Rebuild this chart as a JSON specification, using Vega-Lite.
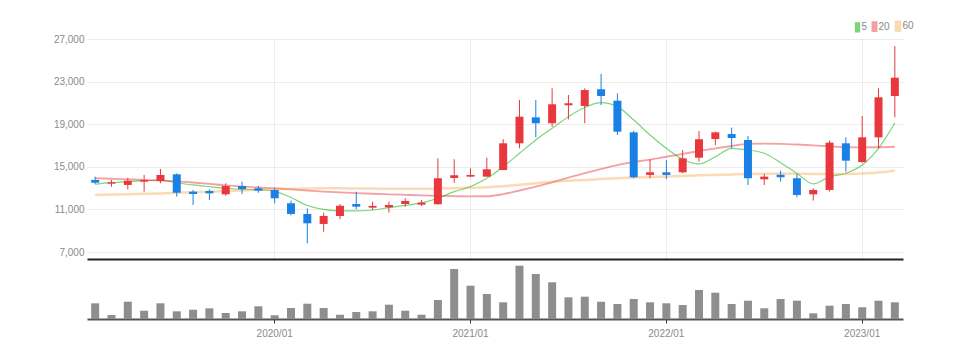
{
  "$schema": "https://vega.github.io/schema/vega-lite/v6.json",
  "padding": {"left": 53, "top": 20, "right": 5, "bottom": 5},
  "background": "white",
  "spacing": 0,
  "datasets": {
    "d": [
      {"m":"2019/02","o":13770,"h":14080,"l":13390,"c":13510,"v":157000,"ma5":13360,"ma20":13930,"ma60":12360},
      {"m":"2019/03","o":13420,"h":13770,"l":13140,"c":13550,"v":40000,"ma5":13510,"ma20":13880,"ma60":12400},
      {"m":"2019/04","o":13300,"h":13980,"l":12890,"c":13700,"v":173000,"ma5":13610,"ma20":13830,"ma60":12430},
      {"m":"2019/05","o":13610,"h":14240,"l":12670,"c":13770,"v":83000,"ma5":13700,"ma20":13780,"ma60":12470},
      {"m":"2019/06","o":13670,"h":14800,"l":13460,"c":14240,"v":157000,"ma5":13740,"ma20":13720,"ma60":12500},
      {"m":"2019/07","o":14300,"h":14400,"l":12200,"c":12570,"v":77000,"ma5":13510,"ma20":13640,"ma60":12560},
      {"m":"2019/08","o":12670,"h":12830,"l":11420,"c":12450,"v":93000,"ma5":13300,"ma20":13530,"ma60":12620},
      {"m":"2019/09","o":12730,"h":12890,"l":11890,"c":12515,"v":107000,"ma5":13140,"ma20":13400,"ma60":12670},
      {"m":"2019/10","o":12420,"h":13460,"l":12290,"c":13200,"v":60000,"ma5":12990,"ma20":13260,"ma60":12730},
      {"m":"2019/11","o":13200,"h":13610,"l":12450,"c":12920,"v":77000,"ma5":12890,"ma20":13150,"ma60":12790},
      {"m":"2019/12","o":12990,"h":13200,"l":12570,"c":12760,"v":127000,"ma5":12860,"ma20":13060,"ma60":12850},
      {"m":"2020/01","o":12830,"h":12990,"l":11580,"c":12050,"v":37000,"ma5":12700,"ma20":12990,"ma60":12900},
      {"m":"2020/02","o":11580,"h":11830,"l":10450,"c":10580,"v":110000,"ma5":12120,"ma20":12880,"ma60":12940},
      {"m":"2020/03","o":10580,"h":11110,"l":7820,"c":9700,"v":153000,"ma5":11370,"ma20":12780,"ma60":12970},
      {"m":"2020/04","o":9640,"h":10700,"l":8910,"c":10390,"v":110000,"ma5":11000,"ma20":12680,"ma60":12980},
      {"m":"2020/05","o":10390,"h":11510,"l":10080,"c":11350,"v":43000,"ma5":10860,"ma20":12600,"ma60":12980},
      {"m":"2020/06","o":11510,"h":12670,"l":11020,"c":11260,"v":70000,"ma5":10860,"ma20":12530,"ma60":12970},
      {"m":"2020/07","o":11170,"h":11730,"l":10950,"c":11330,"v":77000,"ma5":10950,"ma20":12470,"ma60":12960},
      {"m":"2020/08","o":11200,"h":11730,"l":10700,"c":11420,"v":143000,"ma5":11170,"ma20":12420,"ma60":12950},
      {"m":"2020/09","o":11510,"h":12050,"l":11260,"c":11800,"v":83000,"ma5":11390,"ma20":12370,"ma60":12940},
      {"m":"2020/10","o":11450,"h":11890,"l":11330,"c":11640,"v":43000,"ma5":11610,"ma20":12320,"ma60":12940},
      {"m":"2020/11","o":11490,"h":15800,"l":11450,"c":13930,"v":190000,"ma5":12050,"ma20":12280,"ma60":12960},
      {"m":"2020/12","o":13950,"h":15710,"l":13510,"c":14210,"v":500000,"ma5":12670,"ma20":12250,"ma60":12990},
      {"m":"2021/01","o":14080,"h":14860,"l":14020,"c":14240,"v":333000,"ma5":13140,"ma20":12230,"ma60":13030},
      {"m":"2021/02","o":14080,"h":15860,"l":14080,"c":14770,"v":250000,"ma5":13930,"ma20":12240,"ma60":13080},
      {"m":"2021/03","o":14700,"h":17590,"l":14700,"c":17210,"v":167000,"ma5":15010,"ma20":12440,"ma60":13180},
      {"m":"2021/04","o":17210,"h":21270,"l":16740,"c":19710,"v":533000,"ma5":16270,"ma20":12780,"ma60":13320},
      {"m":"2021/05","o":19650,"h":21270,"l":17770,"c":19090,"v":450000,"ma5":17520,"ma20":13150,"ma60":13470},
      {"m":"2021/06","o":19090,"h":22370,"l":18770,"c":20870,"v":367000,"ma5":18620,"ma20":13550,"ma60":13610},
      {"m":"2021/07","o":20780,"h":21740,"l":19460,"c":20970,"v":217000,"ma5":19710,"ma20":13980,"ma60":13700},
      {"m":"2021/08","o":20710,"h":22370,"l":19090,"c":22210,"v":223000,"ma5":20570,"ma20":14420,"ma60":13770},
      {"m":"2021/09","o":22280,"h":23720,"l":20800,"c":21650,"v":173000,"ma5":21020,"ma20":14800,"ma60":13860},
      {"m":"2021/10","o":21210,"h":21900,"l":17990,"c":18300,"v":150000,"ma5":20650,"ma20":15170,"ma60":13940},
      {"m":"2021/11","o":18240,"h":18390,"l":13930,"c":14020,"v":200000,"ma5":19400,"ma20":15450,"ma60":14000},
      {"m":"2021/12","o":14240,"h":15710,"l":13930,"c":14490,"v":167000,"ma5":17990,"ma20":15680,"ma60":14050},
      {"m":"2022/01","o":14490,"h":15640,"l":13860,"c":14240,"v":157000,"ma5":16740,"ma20":15950,"ma60":14100},
      {"m":"2022/02","o":14490,"h":16580,"l":14400,"c":15800,"v":140000,"ma5":15710,"ma20":16210,"ma60":14150},
      {"m":"2022/03","o":15860,"h":18370,"l":15480,"c":17590,"v":290000,"ma5":15270,"ma20":16480,"ma60":14200},
      {"m":"2022/04","o":17610,"h":18300,"l":17050,"c":18240,"v":263000,"ma5":15950,"ma20":16740,"ma60":14240},
      {"m":"2022/05","o":18080,"h":18680,"l":16740,"c":17710,"v":150000,"ma5":16740,"ma20":16960,"ma60":14280},
      {"m":"2022/06","o":17520,"h":17900,"l":13300,"c":13930,"v":183000,"ma5":16580,"ma20":17150,"ma60":14320},
      {"m":"2022/07","o":13830,"h":14330,"l":13300,"c":14080,"v":107000,"ma5":16270,"ma20":17180,"ma60":14350},
      {"m":"2022/08","o":14260,"h":14640,"l":13610,"c":14020,"v":200000,"ma5":15390,"ma20":17160,"ma60":14370},
      {"m":"2022/09","o":13930,"h":14330,"l":12140,"c":12360,"v":183000,"ma5":14400,"ma20":17100,"ma60":14360},
      {"m":"2022/10","o":12420,"h":12990,"l":11830,"c":12830,"v":57000,"ma5":13390,"ma20":17020,"ma60":14340},
      {"m":"2022/11","o":12830,"h":17460,"l":12670,"c":17270,"v":133000,"ma5":14080,"ma20":16930,"ma60":14330},
      {"m":"2022/12","o":17210,"h":17770,"l":14550,"c":15580,"v":150000,"ma5":14400,"ma20":16850,"ma60":14340},
      {"m":"2023/01","o":15450,"h":19770,"l":15390,"c":17770,"v":117000,"ma5":15170,"ma20":16830,"ma60":14380},
      {"m":"2023/02","o":17770,"h":22370,"l":16740,"c":21530,"v":183000,"ma5":16740,"ma20":16840,"ma60":14470},
      {"m":"2023/03","o":21650,"h":26340,"l":19650,"c":23370,"v":167000,"ma5":19120,"ma20":16890,"ma60":14640}
    ]
  },
  "data": {"name": "d"},
  "config": {
    "view": {"stroke": null},
    "axis": {
      "labelFont": "Liberation Sans",
      "labelFontSize": 10,
      "labelColor": "#8a8a8a"
    },
    "legend": {
      "labelFont": "Liberation Sans",
      "labelFontSize": 10,
      "labelColor": "#8a8a8a"
    }
  },
  "vconcat": [
    {
      "width": 816,
      "height": 220,
      "layer": [
        {
          "transform": [{"fold": ["ma5", "ma20", "ma60"], "as": ["k", "val"]}],
          "mark": {"type": "line", "interpolate": "monotone"},
          "encoding": {
            "x": {"field": "m", "type": "ordinal", "scale": {"type": "band", "paddingInner": 0, "paddingOuter": 0},
                  "axis": {"title": null, "labels": false, "ticks": false, "domain": true, "domainColor": "#222222", "domainWidth": 2, "grid": true, "gridColor": "#ececec", "bandPosition": 0.5, "values": ["2020/01", "2021/01", "2022/01", "2023/01"]}},
            "y": {"field": "val", "type": "quantitative", "scale": {"domain": [6350, 27000], "nice": false, "zero": false},
                  "axis": {"title": null, "values": [7000, 11000, 15000, 19000, 23000, 27000], "format": ",d", "ticks": false, "domain": false, "gridColor": "#ececec", "labelPadding": 3}},
            "color": {"field": "k", "type": "nominal",
                      "scale": {"domain": ["ma5", "ma20", "ma60"], "range": ["#22bb22", "#e8383d", "#f3942f"]},
                      "legend": {"title": null, "orient": "none", "legendX": 765, "legendY": -19, "direction": "horizontal",
                                 "symbolType": "M-0.45,-1H0.45V1H-0.45Z", "symbolSize": 81, "symbolStrokeWidth": 0,
                                 "labelOffset": -1.5, "columnPadding": 0, "padding": 0,
                                 "labelExpr": "replace(datum.label, 'ma', '')",
                                 "encode": {"symbols": {"update": {"fill": {"scale": "color", "field": "value"}, "fillOpacity": {"value": 1}, "opacity": {"value": 1}, "strokeWidth": {"value": 0}}}}}},
            "strokeWidth": {"field": "k", "type": "nominal", "scale": {"domain": ["ma5", "ma20", "ma60"], "range": [1.2, 2.5, 1.8]}, "legend": null},
            "opacity": {"field": "k", "type": "nominal", "scale": {"domain": ["ma5", "ma20", "ma60"], "range": [0.6, 0.35, 0.6]}, "legend": null}
          }
        },
        {
          "mark": {"type": "rule", "strokeWidth": 1},
          "encoding": {
            "x": {"field": "m", "type": "ordinal"},
            "y": {"field": "l", "type": "quantitative"},
            "y2": {"field": "h"},
            "color": {"condition": {"test": "datum.c >= datum.o", "value": "#e8383d"}, "value": "#1a80e6"}
          }
        },
        {
          "mark": {"type": "bar", "size": 8},
          "encoding": {
            "x": {"field": "m", "type": "ordinal"},
            "y": {"field": "o", "type": "quantitative"},
            "y2": {"field": "c"},
            "color": {"condition": {"test": "datum.c >= datum.o", "value": "#e8383d"}, "value": "#1a80e6"}
          }
        }
      ]
    },
    {
      "width": 816,
      "height": 60,
      "mark": {"type": "bar", "size": 8, "color": "#8e8e8e"},
      "encoding": {
        "x": {"field": "m", "type": "ordinal", "scale": {"type": "band", "paddingInner": 0, "paddingOuter": 0},
              "axis": {"title": null, "domainColor": "#555555", "domainWidth": 2, "ticks": true, "tickColor": "#333333", "tickSize": 4, "labelPadding": 5, "labelAngle": 0, "grid": false, "bandPosition": 0.5, "values": ["2020/01", "2021/01", "2022/01", "2023/01"]}},
        "y": {"field": "v", "type": "quantitative", "scale": {"domain": [0, 600000], "nice": false},
              "axis": {"title": null, "labels": false, "ticks": false, "domain": false, "grid": false}}
      }
    }
  ]
}
